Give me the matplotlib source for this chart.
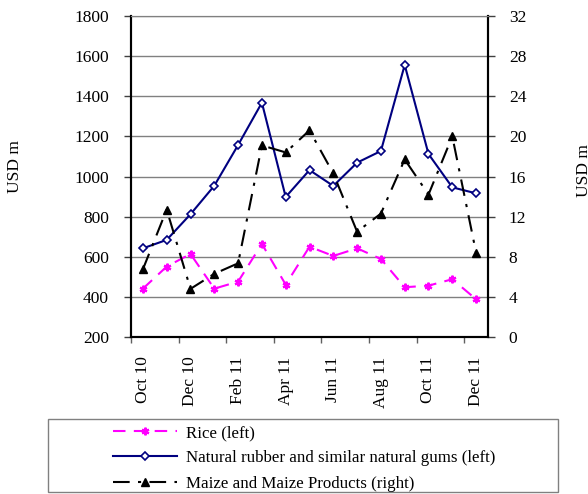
import matplotlib
matplotlib.use("Agg")
import matplotlib.pyplot as plt
from matplotlib.patches import Rectangle

plt.rcParams['font.family'] = ['Liberation Serif', 'DejaVu Serif']
plt.rcParams['font.size'] = 12.5

# monthly data, Oct 10 - Dec 11
months = ['Oct 10', 'Nov 10', 'Dec 10', 'Jan 11', 'Feb 11', 'Mar 11', 'Apr 11', 'May 11',
          'Jun 11', 'Jul 11', 'Aug 11', 'Sep 11', 'Oct 11', 'Nov 11', 'Dec 11']
rice = [441, 551, 614, 441, 476, 664, 461, 650, 604, 642, 589, 448, 456, 488, 388]
rubber = [642, 684, 812, 954, 1157, 1368, 898, 1032, 953, 1069, 1127, 1556, 1112, 946, 916]
maize = [6.75, 12.7, 4.8, 6.3, 7.35, 19.1, 18.4, 20.6, 16.3, 10.5, 12.3, 17.7, 14.2, 20.0, 8.4]

left_ticks = [200, 400, 600, 800, 1000, 1200, 1400, 1600, 1800]
right_ticks = [0, 4, 8, 12, 16, 20, 24, 28, 32]

W, H = 588, 494
fig = plt.figure(figsize=(W / 100, H / 100), dpi=100)
ax = fig.add_axes([131 / W, 1 - 337 / H, 357 / W, 321 / H])
ax2 = ax.twinx()

x = [i + 0.5 for i in range(len(months))]

l1, = ax.plot(x, rice, color='#ff00ff', lw=1.5, dashes=(6, 4),
              marker=(6, 2, 0), markersize=5.5, markeredgewidth=1.6,
              label='Rice (left)')
l2, = ax.plot(x, rubber, color='#000080', lw=1.5, marker='D', markersize=4.5,
              markerfacecolor='white', markeredgecolor='#000080', markeredgewidth=1.2,
              label='Natural rubber and similar natural gums (left)')
l3, = ax2.plot(x, maize, color='black', lw=1.5, dashes=(8, 4, 1.5, 4),
               marker='^', markersize=6, label='Maize and Maize Products (right)')

ax.set_xlim(0, len(months))
ax.set_ylim(200, 1800)
ax.set_yticks(left_ticks)
ax2.set_ylim(0, 32)
ax2.set_yticks(right_ticks)

ax.set_xticks(range(0, len(months), 2))
ax.set_xticklabels([])
ax.set_xticks(x[::2], minor=True)
ax.set_xticklabels(months[::2], minor=True, rotation=90)
ax.tick_params(axis='x', which='minor', length=0, pad=14)
ax.tick_params(axis='x', which='major', length=4, width=1, color='#606060')
ax.tick_params(axis='y', length=5, width=1, color='#404040', pad=11)
ax2.tick_params(axis='y', length=5, width=1, color='#404040', pad=10)

ax.yaxis.grid(True, color='#808080', lw=1)
ax.set_axisbelow(True)
for a in (ax, ax2):
    a.spines['top'].set_color('#808080')
    a.spines['left'].set_linewidth(1.5)
    a.spines['right'].set_linewidth(1.5)
    a.spines['bottom'].set_linewidth(1.5)

fig.text(15 / W, 1 - 167 / H, 'USD m', rotation=90, ha='center', va='center')
fig.text(584 / W, 1 - 171 / H, 'USD m', rotation=90, ha='center', va='center')

# legend box
fig.patches.append(Rectangle((48 / W, 1 - 492 / H), 510 / W, 73 / H,
                             transform=fig.transFigure, fill=False,
                             edgecolor='#808080', lw=1))
fig.legend(handles=[l1, l2, l3], loc='upper left',
           bbox_to_anchor=(113 / W, 1 - 425 / H), frameon=False,
           borderpad=0, borderaxespad=0, handlelength=3.8,
           handletextpad=0.5, labelspacing=0.55, fontsize=12.2)

fig.savefig('out.png', dpi=100)
